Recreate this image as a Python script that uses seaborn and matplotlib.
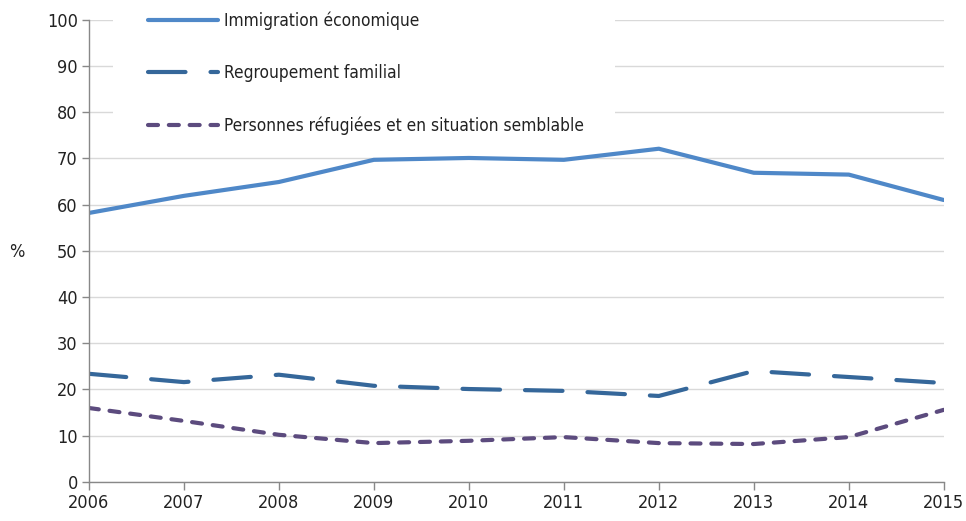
import matplotlib
matplotlib.use("Agg")
import matplotlib.pyplot as plt
import seaborn as sns
import pandas as pd
from matplotlib.patches import Rectangle

years = [2006, 2007, 2008, 2009, 2010, 2011, 2012, 2013, 2014, 2015]
economique = [58.2, 61.9, 64.9, 69.7, 70.1, 69.7, 72.1, 66.9, 66.5, 61.0]
familial = [23.4, 21.6, 23.2, 20.8, 20.1, 19.7, 18.6, 24.0, 22.7, 21.4]
refugies = [16.0, 13.2, 10.2, 8.4, 8.9, 9.7, 8.4, 8.2, 9.7, 15.6]
labels = ["Immigration économique", "Regroupement familial",
          "Personnes réfugiées et en situation semblable"]

sns.set_theme(style="white")
plt.rcParams['font.family'] = ['DejaVu Sans']
plt.rcParams['font.stretch'] = 'condensed'

df = pd.DataFrame({"year": years * 3,
                   "value": economique + familial + refugies,
                   "serie": [labels[0]] * 10 + [labels[1]] * 10 + [labels[2]] * 10})

fig = plt.figure(figsize=(9.66, 5.21), dpi=100)
ax = fig.add_axes([0.092, 0.075, 0.885, 0.887])

colors = ["#4F88C8", "#35679A", "#5C4B7E"]
styles = [(None, None), (9, 6), (2.4, 2.6)]
for lab, col, st in zip(labels, colors, styles):
    sub = df[df["serie"] == lab]
    sns.lineplot(data=sub, x="year", y="value", ax=ax, color=col, lw=3, label=lab)
    line = ax.get_lines()[-1]
    line.set_zorder(3)
    if st[0] is not None:
        line.set_dashes(st)
        line.set_dash_capstyle("round")

ax.set_xlim(2006, 2015)
ax.set_ylim(0, 100)
ax.set_xticks(years)
ax.set_xticklabels([str(y) for y in years])
ax.set_yticks(range(0, 101, 10))
ax.yaxis.grid(True, color="#d9d9d9", lw=1)
ax.xaxis.grid(False)
ax.set_axisbelow(True)
for s in ["top", "right"]:
    ax.spines[s].set_visible(False)
for s in ["left", "bottom"]:
    ax.spines[s].set_color("#888888")
    ax.spines[s].set_linewidth(1)
    ax.spines[s].set_zorder(4)
ax.tick_params(axis="x", bottom=True, length=6, width=1, color="#888888", labelsize=13, pad=3)
ax.tick_params(axis="y", left=True, length=5, width=1, color="#888888", labelsize=13, pad=3)
for t in ax.get_xticklabels() + ax.get_yticklabels():
    t.set_color("#222222")
ax.set_xlabel("")
ax.set_ylabel("%", rotation=0, fontsize=13, color="#222222", va="center", ha="left")
ax.yaxis.set_label_coords(-0.093, 0.497)

# white legend background hiding the gridlines
ax.add_patch(Rectangle((0.028, 0.72), 0.587, 0.30, transform=ax.transAxes,
                       facecolor="white", edgecolor="none", zorder=1, clip_on=False))

leg = ax.legend(loc="upper left", bbox_to_anchor=(0.069, 1.018), frameon=False,
                handlelength=4.1, handletextpad=0.35, labelspacing=2.0,
                fontsize=12.4, borderpad=0, borderaxespad=0)
for t in leg.get_texts():
    t.set_color("#222222")

fig.savefig("out.png", dpi=100)
